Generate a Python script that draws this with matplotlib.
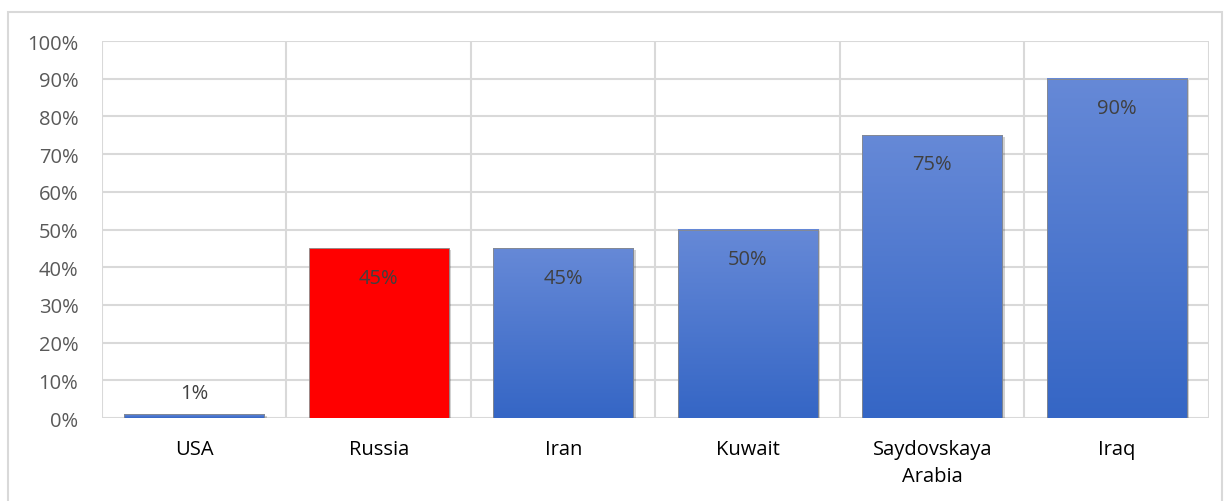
import numpy as np
import matplotlib.pyplot as plt
from matplotlib.colors import LinearSegmentedColormap
from matplotlib.patches import Rectangle

countries = ["USA", "Russia", "Iran", "Kuwait", "Saydovskaya\nArabia", "Iraq"]
shares = [0.01, 0.45, 0.45, 0.50, 0.75, 0.90]
highlight = "Russia"

plt.rcParams['font.family'] = ['Open Sans', 'DejaVu Sans']

fig = plt.figure(figsize=(12.27, 5.02), dpi=100)
ax = fig.add_axes([0.0831, 0.1653, 0.9022, 0.751])

# рамка вокруг всей диаграммы
fig.patches.append(Rectangle((8 / 1227, -0.05), 1214 / 1227, 1.05 - 13 / 502,
                             transform=fig.transFigure, fill=False,
                             edgecolor="#d9d9d9", linewidth=1.5))

x = np.arange(len(countries))
bars = ax.bar(x, shares, width=0.76, color="none", zorder=3)

blue = LinearSegmentedColormap.from_list("blue", ["#3566c5", "#6689d7"])
grad = np.linspace(0, 1, 256).reshape(-1, 1)

for b, name, v in zip(bars, countries, shares):
    x0, w, h = b.get_x(), b.get_width(), b.get_height()
    # тень
    ax.add_patch(Rectangle((x0 + 0.012, -0.004), w, h, facecolor="#000000",
                           alpha=0.18, edgecolor="none", zorder=2))
    if name == highlight:
        ax.add_patch(Rectangle((x0, 0), w, h, facecolor="#ff0000",
                               edgecolor="#8a8a8a", linewidth=0.6, zorder=3))
    else:
        ax.imshow(grad, cmap=blue, origin="lower", aspect="auto",
                  extent=(x0, x0 + w, 0, h), zorder=3)
        ax.add_patch(Rectangle((x0, 0), w, h, facecolor="none",
                               edgecolor="#8a8a8a", linewidth=0.6, zorder=4))
    label = f"{v * 100:.0f}%"
    if v < 0.1:
        ax.annotate(label, (x0 + w / 2, h), xytext=(0, 8),
                    textcoords="offset points", ha="center", va="bottom",
                    fontsize=14.5, color="#404040", zorder=5)
    else:
        ax.annotate(label, (x0 + w / 2, h), xytext=(0, -21),
                    textcoords="offset points", ha="center", va="center",
                    fontsize=14.5, color="#404040", zorder=5)

ax.set_xlim(-0.5, len(countries) - 0.5)
ax.set_ylim(0, 1)
ax.set_yticks(np.arange(0, 1.01, 0.1))
ax.set_yticklabels([f"{t}%" for t in range(0, 101, 10)])
ax.set_xticks(x)
ax.set_xticklabels(countries, linespacing=1.5)

# вертикальные линии между категориями
for gx in np.arange(-0.5, len(countries), 1.0):
    ax.axvline(gx, color="#d9d9d9", linewidth=1.5, zorder=1)
ax.yaxis.grid(True, color="#d9d9d9", linewidth=1.5, zorder=1)
ax.set_axisbelow(True)

for s in ax.spines.values():
    s.set_visible(False)
ax.tick_params(axis="both", length=0)
ax.tick_params(axis="y", labelsize=14.5, labelcolor="#595959", pad=17)
ax.tick_params(axis="x", labelsize=14.5, labelcolor="#000000", pad=15)

fig.savefig("out.png", dpi=100)
